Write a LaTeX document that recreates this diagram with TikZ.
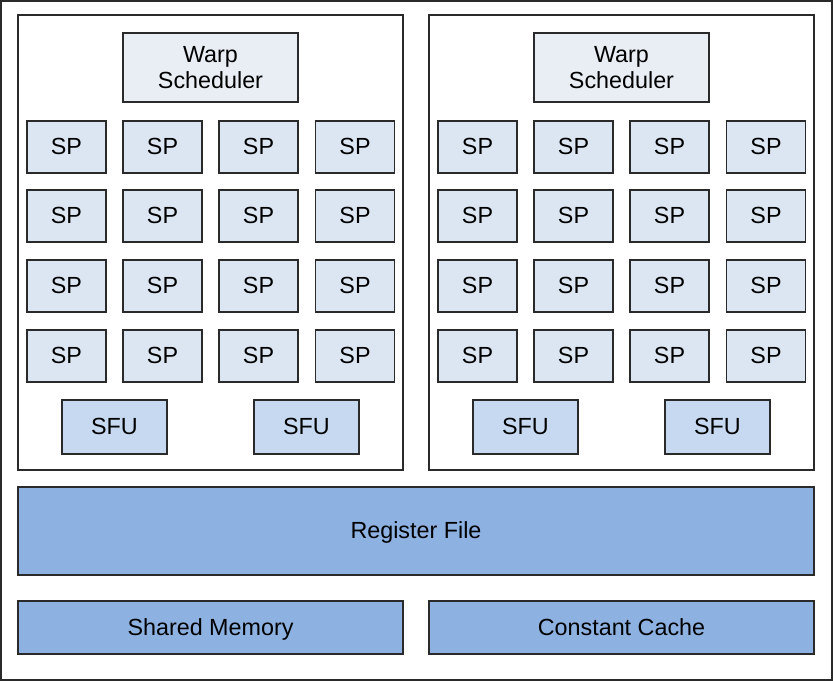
\documentclass[tikz,border=0pt]{standalone}
\usepackage{fontspec}
\setmainfont{Liberation Sans}
\definecolor{wsfill}{HTML}{E9EEF5}
\definecolor{spfill}{HTML}{DCE6F2}
\definecolor{sfufill}{HTML}{C6D9F0}
\definecolor{memfill}{HTML}{8DB2E2}
\definecolor{edge}{HTML}{2A2A2A}
\tikzset{
  unit/.style={draw=edge,line width=0.9pt,inner sep=0pt,align=center,
    font=\fontsize{17.5}{19.5}\selectfont},
  oneline/.style={text height=12.5pt,text depth=1pt},
  smbox/.style={unit,fill=white,minimum width=288.75pt,minimum height=341.25pt},
  wsbox/.style={unit,fill=wsfill,minimum width=131.25pt,minimum height=51.75pt},
  spbox/.style={unit,oneline,fill=spfill,minimum width=59.25pt,minimum height=39pt},
  sfubox/.style={unit,oneline,fill=sfufill,minimum width=78.75pt,minimum height=40.5pt},
  membox/.style={unit,oneline,fill=memfill,minimum height=39.75pt}
}
\begin{document}
\begin{tikzpicture}[x=0.75pt,y=-0.75pt]
  \useasboundingbox (0,0) rectangle (833,681);
  \draw[edge,line width=1.5pt,fill=white] (1,1) rectangle (832,680);

  % two multiprocessor halves
  \foreach \s/\o in {l/0,r/411}{
    \node[smbox] (sm-\s) at (210.5+\o,242.5) {};
    \node[wsbox] (ws-\s) at (210.5+\o,67.5) {Warp\\Scheduler};
    \foreach \r/\y in {1/147,2/216,3/286,4/356}
      \foreach \c/\x in {1/66.5,2/162.5,3/258.5,4/355}
        \node[spbox] (sp-\s-\r-\c) at (\x+\o,\y) {SP};
    \node[sfubox] (sfu-\s-1) at (114.5+\o,427) {SFU};
    \node[sfubox] (sfu-\s-2) at (306.5+\o,427) {SFU};
  }

  \node[membox,minimum width=597pt,minimum height=66pt] (reg) at (416,531) {Register File};
  \node[membox,minimum width=288.75pt] (shmem) at (210.5,627.5) {Shared Memory};
  \node[membox,minimum width=288.75pt] (ccache) at (621.5,627.5) {Constant Cache};
\end{tikzpicture}
\end{document}
